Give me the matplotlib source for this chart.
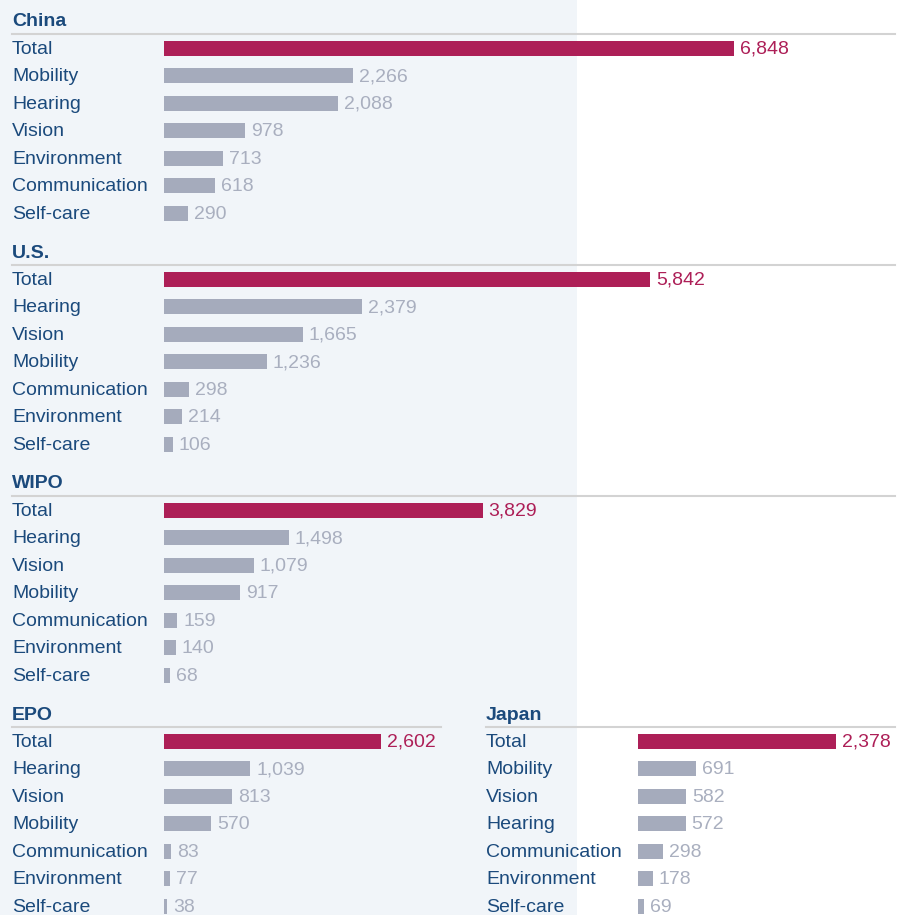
import matplotlib
matplotlib.use("Agg")
import matplotlib.pyplot as plt
from matplotlib.patches import Rectangle
from matplotlib.lines import Line2D
from matplotlib.transforms import blended_transform_factory

plt.rcParams['font.family'] = ['Liberation Sans', 'DejaVu Sans']

W, H = 904, 915

china_cats = ["Total", "Mobility", "Hearing", "Vision", "Environment", "Communication", "Self-care"]
china_vals = [6848, 2266, 2088, 978, 713, 618, 290]
us_cats = ["Total", "Hearing", "Vision", "Mobility", "Communication", "Environment", "Self-care"]
us_vals = [5842, 2379, 1665, 1236, 298, 214, 106]
wipo_cats = ["Total", "Hearing", "Vision", "Mobility", "Communication", "Environment", "Self-care"]
wipo_vals = [3829, 1498, 1079, 917, 159, 140, 68]
epo_cats = ["Total", "Hearing", "Vision", "Mobility", "Communication", "Environment", "Self-care"]
epo_vals = [2602, 1039, 813, 570, 83, 77, 38]
japan_cats = ["Total", "Mobility", "Vision", "Hearing", "Communication", "Environment", "Self-care"]
japan_vals = [2378, 691, 582, 572, 298, 178, 69]

NAVY = "#1b4a7c"
GREY_BAR = "#a5abbc"
GREY_TXT = "#a9afbf"
RED = "#ad1f57"
PANEL = "#f1f5f9"
RULE = "#d3d3d3"

SCALE = 570 / 6848      # pixels per unit, shared by every panel
ROW = 27.5              # row pitch in pixels
BAR_H = 15 / ROW


def fx(px):
    return px / W


def fy(py):
    return 1 - py / H


fig = plt.figure(figsize=(W / 100, H / 100), dpi=100)
# light panel behind the left column
fig.add_artist(Rectangle((0, 0), fx(577), 1, transform=fig.transFigure,
                         facecolor=PANEL, edgecolor="none", zorder=-10))


def draw_section(title, cats, vals, line_y, label_x, bar_x, right_x):
    # title and rule line
    fig.text(fx(label_x), fy(line_y - 12), title, fontsize=14, fontweight="bold",
             color=NAVY, va="center", ha="left")
    fig.add_artist(Line2D([fx(label_x), fx(right_x)], [fy(line_y), fy(line_y)],
                          color=RULE, lw=1.5, transform=fig.transFigure))

    top = line_y + 0.5
    height = ROW * len(cats)
    ax = fig.add_axes([fx(bar_x), fy(top + height), fx(895) - fx(bar_x), height / H])
    ax.patch.set_alpha(0)
    ax.set_xlim(0, (895 - bar_x) / SCALE)
    ax.set_ylim(len(cats) - 0.5, -0.5)
    ax.axis("off")

    colors = [RED] + [GREY_BAR] * (len(cats) - 1)
    ax.barh(range(len(cats)), vals, height=BAR_H, color=colors)

    lab_tr = blended_transform_factory(fig.transFigure, ax.transData)
    for i, (c, v) in enumerate(zip(cats, vals)):
        ax.annotate(c, (fx(label_x), i), xycoords=lab_tr, xytext=(0, -1),
                    textcoords="offset pixels", fontsize=14, color=NAVY,
                    va="center", ha="left", annotation_clip=False)
        ax.annotate(f"{v:,}", (v, i), xytext=(6, -1), textcoords="offset pixels",
                    fontsize=14, color=RED if i == 0 else GREY_TXT,
                    va="center", ha="left", annotation_clip=False)


draw_section("China", china_cats, china_vals, 34, 12, 164, 895)
draw_section("U.S.", us_cats, us_vals, 265, 12, 164, 895)
draw_section("WIPO", wipo_cats, wipo_vals, 496, 12, 164, 895)
draw_section("EPO", epo_cats, epo_vals, 727, 12, 164, 441)
draw_section("Japan", japan_cats, japan_vals, 727, 486, 638, 895)

fig.savefig("out.png", dpi=100, facecolor="white")
